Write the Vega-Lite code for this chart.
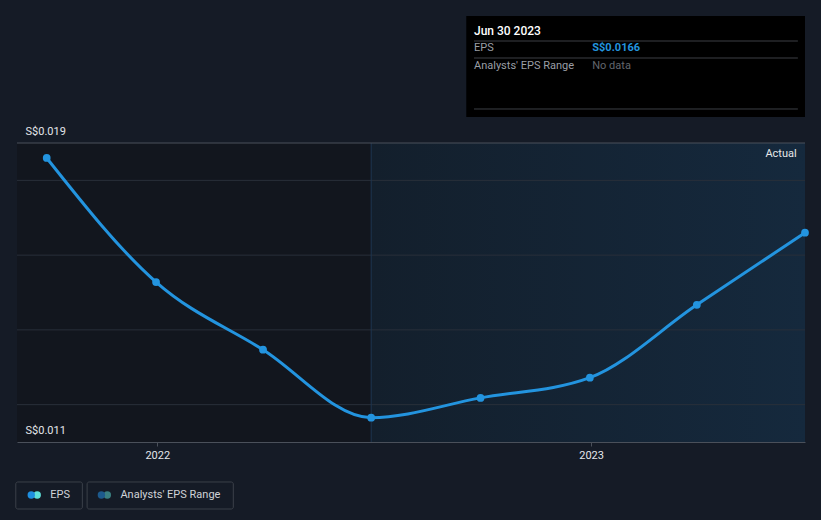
{
  "$schema": "https://vega.github.io/schema/vega-lite/v6.json",
  "width": 788,
  "height": 299,
  "autosize": "none",
  "padding": {"left": 17, "top": 143, "right": 16, "bottom": 78},
  "background": "#151b26",
  "config": {"view": {"stroke": null}, "font": "Roboto"},
  "datasets": {
    "eps": [
      {"date": "2021-09-30", "eps": 0.0186},
      {"date": "2021-12-31", "eps": 0.01528},
      {"date": "2022-03-31", "eps": 0.01347},
      {"date": "2022-06-30", "eps": 0.01165},
      {"date": "2022-09-30", "eps": 0.01218},
      {"date": "2022-12-31", "eps": 0.01272},
      {"date": "2023-03-31", "eps": 0.01467},
      {"date": "2023-06-30", "eps": 0.0166}
    ],
    "grid": [{"v": 0.012}, {"v": 0.014}, {"v": 0.016}, {"v": 0.018}]
  },
  "layer": [
    {
      "data": {"values": [{}]},
      "mark": {"type": "rect", "color": "#12161e"},
      "encoding": {
        "x": {"datum": {"year": 2021, "month": 9, "date": 5, "utc": true}, "type": "temporal"},
        "x2": {"datum": {"year": 2022, "month": 6, "date": 30, "utc": true}},
        "y": {"datum": 0.019, "type": "quantitative"},
        "y2": {"datum": 0.011}
      }
    },
    {
      "data": {"values": [{}]},
      "mark": {"type": "rect", "color": {"gradient": "linear", "x1": 0, "x2": 1, "y1": 0, "y2": 0, "stops": [{"offset": 0, "color": "#131f2c"}, {"offset": 1, "color": "#15293d"}]}},
      "encoding": {
        "x": {"datum": {"year": 2022, "month": 6, "date": 30, "utc": true}, "type": "temporal"},
        "x2": {"datum": {"year": 2023, "month": 6, "date": 30, "utc": true}},
        "y": {"datum": 0.019, "type": "quantitative"},
        "y2": {"datum": 0.011}
      }
    },
    {
      "data": {"name": "grid"},
      "mark": {"type": "rule", "color": "#282f3a", "strokeWidth": 1},
      "encoding": {
        "y": {"field": "v", "type": "quantitative"}
      }
    },
    {
      "data": {"values": [{}]},
      "mark": {"type": "rule", "color": "#1d3650", "strokeWidth": 1},
      "encoding": {
        "x": {"datum": {"year": 2022, "month": 6, "date": 30, "utc": true}, "type": "temporal"},
        "y": {"datum": 0.019, "type": "quantitative"},
        "y2": {"datum": 0.011}
      }
    },
    {
      "data": {"values": [{}]},
      "mark": {"type": "rule", "color": "#4a505a", "strokeWidth": 1},
      "encoding": {
        "y": {"datum": 0.019, "type": "quantitative"}
      }
    },
    {
      "data": {"name": "eps"},
      "mark": {"type": "line", "color": "#2394df", "strokeWidth": 3, "interpolate": "monotone"},
      "encoding": {
        "x": {
          "field": "date", "type": "temporal",
          "scale": {"type": "utc", "domain": [{"year": 2021, "month": 9, "date": 5, "utc": true}, {"year": 2023, "month": 6, "date": 30, "utc": true}]},
          "axis": {
            "title": null, "grid": false, "format": "%Y", "zindex": 1,
            "values": [{"year": 2022, "month": 1, "date": 1, "utc": true}, {"year": 2023, "month": 1, "date": 1, "utc": true}],
            "domainColor": "#4a505a", "tickColor": "#4a505a", "tickSize": 4,
            "labelColor": "#e4e6ea", "labelFontSize": 11, "labelPadding": 3
          }
        },
        "y": {
          "field": "eps", "type": "quantitative",
          "scale": {"domain": [0.011, 0.019], "nice": false, "zero": false},
          "axis": {
            "title": null, "grid": false, "domain": false, "ticks": false, "zindex": 1,
            "values": [0.011, 0.019],
            "labelExpr": "'S$' + format(datum.value, '.3f')",
            "labelAlign": "left", "labelBaseline": "alphabetic",
            "labelPadding": -8, "labelOffset": -9,
            "labelColor": "#e4e6ea", "labelFontSize": 11
          }
        }
      }
    },
    {
      "data": {"name": "eps"},
      "transform": [{"filter": "datum.date != '2023-06-30'"}],
      "mark": {"type": "point", "filled": true, "color": "#2394df", "size": 60, "opacity": 1},
      "encoding": {
        "x": {"field": "date", "type": "temporal"},
        "y": {"field": "eps", "type": "quantitative"}
      }
    },
    {
      "data": {"name": "eps"},
      "transform": [{"filter": "datum.date == '2023-06-30'"}],
      "mark": {"type": "point", "filled": true, "fill": "#2394df", "stroke": "#d8eefa", "strokeWidth": 1.5, "size": 60, "opacity": 1, "clip": true},
      "encoding": {
        "x": {"field": "date", "type": "temporal"},
        "y": {"field": "eps", "type": "quantitative"}
      }
    },
    {
      "data": {"values": [{}]},
      "mark": {"type": "text", "text": "Actual", "align": "right", "baseline": "middle", "fontSize": 11, "color": "#e8e8e8"},
      "encoding": {
        "x": {"datum": {"year": 2023, "month": 6, "date": 23, "utc": true}, "type": "temporal"},
        "y": {"datum": 0.018706, "type": "quantitative"}
      }
    },
    {
      "data": {"values": [{}]},
      "mark": {"type": "rect", "color": "#000000"},
      "encoding": {
        "x": {"datum": {"year": 2022, "month": 9, "date": 18, "utc": true}, "type": "temporal"},
        "x2": {"datum": {"year": 2023, "month": 6, "date": 30, "utc": true}},
        "y": {"datum": 0.022398, "type": "quantitative"},
        "y2": {"datum": 0.019696}
      }
    },
    {
      "data": {"values": [{"v": 0.021729}, {"v": 0.021274}, {"v": 0.01991}]},
      "mark": {"type": "rule", "color": "#3c3f44", "strokeWidth": 1},
      "encoding": {
        "x": {"datum": {"year": 2022, "month": 9, "date": 24, "hours": 12, "utc": true}, "type": "temporal"},
        "x2": {"datum": {"year": 2023, "month": 6, "date": 24, "utc": true}},
        "y": {"field": "v", "type": "quantitative"}
      }
    },
    {
      "data": {"values": [{}]},
      "mark": {"type": "text", "text": "Jun 30 2023", "align": "left", "baseline": "middle", "fontSize": 12, "fontWeight": 500, "color": "#ffffff"},
      "encoding": {
        "x": {"datum": {"year": 2022, "month": 9, "date": 24, "hours": 12, "utc": true}, "type": "temporal"},
        "y": {"datum": 0.021997, "type": "quantitative"}
      }
    },
    {
      "data": {"values": [{}]},
      "mark": {"type": "text", "text": "EPS", "align": "left", "baseline": "middle", "fontSize": 11, "color": "#9a9ea5"},
      "encoding": {
        "x": {"datum": {"year": 2022, "month": 9, "date": 24, "hours": 12, "utc": true}, "type": "temporal"},
        "y": {"datum": 0.021542, "type": "quantitative"}
      }
    },
    {
      "data": {"values": [{}]},
      "mark": {"type": "text", "text": "Analysts' EPS Range", "align": "left", "baseline": "middle", "fontSize": 11, "color": "#9a9ea5"},
      "encoding": {
        "x": {"datum": {"year": 2022, "month": 9, "date": 24, "hours": 12, "utc": true}, "type": "temporal"},
        "y": {"datum": 0.02106, "type": "quantitative"}
      }
    },
    {
      "data": {"values": [{}]},
      "mark": {"type": "text", "text": "S$0.0166", "align": "left", "baseline": "middle", "fontSize": 11, "fontWeight": "bold", "color": "#2394df"},
      "encoding": {
        "x": {"datum": {"year": 2023, "month": 1, "date": 2, "utc": true}, "type": "temporal"},
        "y": {"datum": 0.021542, "type": "quantitative"}
      }
    },
    {
      "data": {"values": [{}]},
      "mark": {"type": "text", "text": "No data", "align": "left", "baseline": "middle", "fontSize": 11, "color": "#62666d"},
      "encoding": {
        "x": {"datum": {"year": 2023, "month": 1, "date": 2, "utc": true}, "type": "temporal"},
        "y": {"datum": 0.02106, "type": "quantitative"}
      }
    },
    {
      "data": {"values": [{}]},
      "mark": {"type": "rect", "fill": "#151b26", "stroke": "#3b4049", "strokeWidth": 1, "cornerRadius": 2},
      "encoding": {
        "x": {"datum": {"year": 2021, "month": 9, "date": 4, "utc": true}, "type": "temporal"},
        "x2": {"datum": {"year": 2021, "month": 10, "date": 30, "utc": true}},
        "y": {"datum": 0.00993, "type": "quantitative"},
        "y2": {"datum": 0.009207}
      }
    },
    {
      "data": {"values": [{}]},
      "mark": {"type": "rect", "fill": "#151b26", "stroke": "#3b4049", "strokeWidth": 1, "cornerRadius": 2},
      "encoding": {
        "x": {"datum": {"year": 2021, "month": 11, "date": 3, "utc": true}, "type": "temporal"},
        "x2": {"datum": {"year": 2022, "month": 3, "date": 6, "utc": true}},
        "y": {"datum": 0.00993, "type": "quantitative"},
        "y2": {"datum": 0.009207}
      }
    },
    {
      "data": {"values": [{"d": "2021-09-22", "c": "#5fe0d8"}, {"d": "2021-09-17", "c": "#1e8fe0"}, {"d": "2021-11-20", "c": "#3a7f80"}, {"d": "2021-11-15", "c": "#1d5a8c"}]},
      "mark": {"type": "point", "filled": true, "size": 55, "opacity": 1},
      "encoding": {
        "x": {"field": "d", "type": "temporal"},
        "y": {"datum": 0.009582, "type": "quantitative"},
        "color": {"field": "c", "type": "nominal", "scale": null, "legend": null}
      }
    },
    {
      "data": {"values": [{}]},
      "mark": {"type": "text", "text": "EPS", "align": "left", "baseline": "middle", "fontSize": 11, "color": "#d0d3d8"},
      "encoding": {
        "x": {"datum": {"year": 2021, "month": 10, "date": 3, "utc": true}, "type": "temporal"},
        "y": {"datum": 0.009582, "type": "quantitative"}
      }
    },
    {
      "data": {"values": [{}]},
      "mark": {"type": "text", "text": "Analysts' EPS Range", "align": "left", "baseline": "middle", "fontSize": 11, "color": "#d0d3d8"},
      "encoding": {
        "x": {"datum": {"year": 2021, "month": 12, "date": 1, "utc": true}, "type": "temporal"},
        "y": {"datum": 0.009582, "type": "quantitative"}
      }
    }
  ]
}
